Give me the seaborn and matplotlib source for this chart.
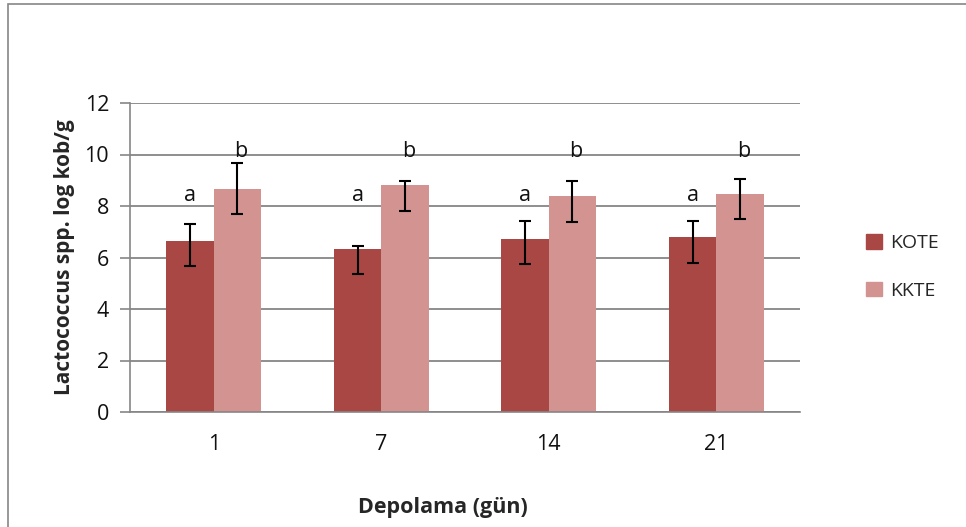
import numpy as np
import pandas as pd
import matplotlib
matplotlib.use("Agg")
import matplotlib.pyplot as plt
import seaborn as sns
from matplotlib.patches import Rectangle

days = ["1", "7", "14", "21"]
groups = ["KOTE", "KKTE"]
kote = [6.66, 6.33, 6.73, 6.80]
kote_lo = [5.68, 5.36, 5.75, 5.80]
kote_hi = [7.30, 6.46, 7.42, 7.42]
kkte = [8.67, 8.80, 8.37, 8.48]
kkte_lo = [7.68, 7.82, 7.37, 7.50]
kkte_hi = [9.66, 8.99, 8.99, 9.03]
letters = ["a", "b"]
letter_y = [8.4, 10.1]
colors = ["#A94744", "#D39391"]

df = pd.DataFrame({
    "day": days * 2,
    "group": [groups[0]] * 4 + [groups[1]] * 4,
    "value": kote + kkte,
})
lows = [kote_lo, kkte_lo]
highs = [kote_hi, kkte_hi]

sns.set_style("white")
plt.rcParams["font.family"] = ["Open Sans", "DejaVu Sans"]
fs = 15.5

fig = plt.figure(figsize=(9.66, 5.27), dpi=100)
ax = fig.add_axes([130 / 966, 1 - 412 / 527, 670 / 966, 309 / 527])

sns.barplot(data=df, x="day", y="value", hue="group", order=days, hue_order=groups,
            palette=colors, width=0.567, errorbar=None, saturation=1, ax=ax,
            edgecolor="none", linewidth=0)

# error bars + significance letters
bar_groups = list(ax.containers)
for i, cont in enumerate(bar_groups):
    xs = [b.get_x() + b.get_width() / 2 for b in cont]
    hs = [b.get_height() for b in cont]
    yerr = [[h - lo for h, lo in zip(hs, lows[i])], [hi - h for h, hi in zip(hs, highs[i])]]
    ax.errorbar(xs, hs, yerr=yerr, fmt="none", ecolor="black", elinewidth=1.5,
                capsize=4, capthick=1.5, zorder=5)
    for x in xs:
        ax.text(x + 0.02 * i, letter_y[i], letters[i], ha="center", va="center", fontsize=fs,
                color="#111111")

ax.set_ylim(0, 12)
ax.set_yticks(range(0, 13, 2))
ax.set_xlim(-0.5, 3.5)
ax.set_xticks(range(4))
ax.set_xticklabels(days)
ax.set_xticks(np.arange(-0.5, 4, 1), minor=True)
ax.tick_params(axis="x", which="major", length=0, pad=16, labelsize=fs, labelcolor="#111111")
ax.tick_params(axis="x", which="minor", length=7, width=1.2, color="#868686", direction="out")
ax.tick_params(axis="y", length=7, width=1.2, color="#868686", direction="out", pad=8, labelsize=fs,
               labelcolor="#111111", left=True)
ax.yaxis.grid(True, color="#868686", linewidth=1.3)
ax.set_axisbelow(True)
for s in ["top", "right"]:
    ax.spines[s].set_visible(False)
for s in ["left", "bottom"]:
    ax.spines[s].set_color("#868686")
    ax.spines[s].set_linewidth(1.2)

ax.set_xlabel("")
ax.set_ylabel("Lactococcus spp. log kob/g", fontsize=fs - 0.5, fontweight="bold", labelpad=7)
fig.text(443 / 966, 1 - 507 / 527, "Depolama (gün)", ha="center", va="center",
         fontsize=fs, fontweight="bold")

ax.get_legend().remove()
handles = [Rectangle((0, 0), 1, 1, color=c) for c in colors]
fig.legend(handles, groups, loc="center left", bbox_to_anchor=(866 / 966, 1 - 267 / 527),
           frameon=False, fontsize=fs - 1.5, handlelength=0.8, handleheight=0.8,
           labelspacing=1.5, handletextpad=0.45, borderpad=0, borderaxespad=0)

# outer chart border
fig.patches.append(Rectangle((8 / 966, -0.05), 1.1, 1 - 4 / 527 + 0.05,
                             transform=fig.transFigure, fill=False,
                             edgecolor="#868686", linewidth=1.2))

fig.savefig("out.png", dpi=100)
